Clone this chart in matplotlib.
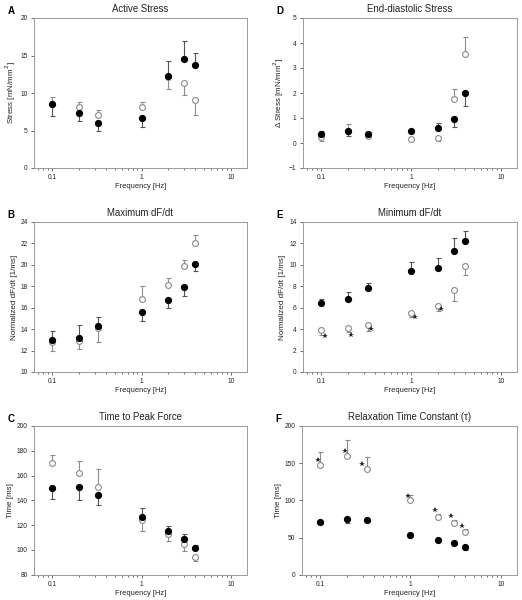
import matplotlib
matplotlib.use("Agg")
import matplotlib.pyplot as plt
from matplotlib.ticker import FuncFormatter, LogLocator, NullFormatter

plt.rcParams['font.family'] = ['Liberation Sans', 'DejaVu Sans']

freq = [0.1, 0.2, 0.33, 1, 2, 3, 4]

# A: Active Stress
a_filled = [8.6, 7.3, 6.0, 6.7, 12.3, 14.6, 13.8]
a_filled_up = [0, 0, 0, 0, 2.0, 2.4, 1.6]
a_filled_dn = [1.6, 1.0, 1.0, 1.2, 0, 0, 0]
a_open = [8.6, 8.2, 7.1, 8.2, 12.2, 11.4, 9.1]
a_open_up = [0.9, 0.6, 0.7, 0.6, 0, 0, 0]
a_open_dn = [0, 0, 0, 0, 1.6, 1.7, 2.0]

# D: End-diastolic Stress
d_filled = [0.38, 0.48, 0.37, 0.48, 0.62, 0.95, 2.02]
d_filled_up = [0.12, 0, 0.08, 0.07, 0.2, 0, 0]
d_filled_dn = [0, 0.21, 0, 0, 0, 0.3, 0.55]
d_open = [0.25, 0.5, 0.30, 0.17, 0.22, 1.75, 3.55]
d_open_up = [0, 0.25, 0, 0, 0, 0.4, 0.7]
d_open_dn = [0.15, 0, 0.05, 0, 0.12, 0, 0]

# B: Maximum dF/dt
b_filled = [13.0, 13.15, 14.25, 15.6, 16.7, 17.95, 20.05]
b_filled_up = [0.85, 1.2, 0.85, 0, 0, 0, 0]
b_filled_dn = [0, 0, 0, 0.8, 0.7, 0.9, 0.65]
b_open = [12.8, 12.9, 14.1, 16.85, 18.15, 19.9, 22.0]
b_open_up = [0, 0, 0, 1.2, 0.65, 0.6, 0.8]
b_open_dn = [0.8, 0.75, 1.3, 0, 0, 0, 0]

# E: Minimum dF/dt
e_filled = [6.45, 6.8, 7.8, 9.4, 9.75, 11.3, 12.2]
e_filled_up = [0.35, 0.65, 0.55, 0.9, 0.85, 1.2, 0.95]
e_filled_dn = [0, 0, 0, 0, 0, 0, 0]
e_open = [3.9, 4.15, 4.4, 5.55, 6.2, 7.7, 9.85]
e_open_up = [0, 0, 0, 0, 0, 0, 0]
e_open_dn = [0.4, 0.45, 0.55, 0.45, 0.5, 1.05, 0.75]
e_star_x = [0.11, 0.214, 0.36, 1.1, 2.15]
e_star_y = [3.33, 3.42, 4.05, 5.18, 5.9]

# C: Time to Peak Force
c_filled = [150, 150.5, 144.5, 126.5, 115, 108.5, 101.5]
c_filled_up = [0, 0, 0, 7, 4.5, 4.5, 2.5]
c_filled_dn = [9, 10.5, 8.5, 0, 0, 0, 0]
c_open = [170.5, 162, 151, 124, 113, 105, 94]
c_open_up = [6.5, 10, 14, 0, 0, 0, 0]
c_open_dn = [0, 0, 0, 8.5, 5.5, 6, 3]

# F: Relaxation Time Constant
f_filled = [70.5, 75, 74, 54, 47, 43, 37]
f_filled_up = [0, 0, 0, 0, 0, 0, 0]
f_filled_dn = [2, 5, 3, 2, 2, 2, 3]
f_open = [148, 160, 142, 100, 78, 70, 57]
f_open_up = [17, 21, 17, 7, 4, 4, 4]
f_open_dn = [0, 0, 0, 0, 0, 0, 0]
f_star_x = [0.096, 0.19, 0.29, 0.93, 1.88, 2.83, 3.7]
f_star_y = [154, 167, 149, 106, 86.5, 78.5, 66]

panels = [
    dict(letter='A', title='Active Stress', ylabel='Stress [mN/mm$^2$]',
         ylim=(0, 20), yticks=[0, 5, 10, 15, 20],
         f=(a_filled, a_filled_dn, a_filled_up), o=(a_open, a_open_dn, a_open_up),
         rect=[0.065, 0.72, 0.408, 0.25]),
    dict(letter='D', title='End-diastolic Stress', ylabel='Δ Stress [mN/mm$^2$]',
         ylim=(-1, 5), yticks=[-1, 0, 1, 2, 3, 4, 5],
         f=(d_filled, d_filled_dn, d_filled_up), o=(d_open, d_open_dn, d_open_up),
         rect=[0.580, 0.72, 0.410, 0.25]),
    dict(letter='B', title='Maximum dF/dt', ylabel='Normalized dF/dt [1/ms]',
         ylim=(10, 24), yticks=[10, 12, 14, 16, 18, 20, 22, 24],
         f=(b_filled, b_filled_dn, b_filled_up), o=(b_open, b_open_dn, b_open_up),
         rect=[0.065, 0.38, 0.408, 0.25]),
    dict(letter='E', title='Minimum dF/dt', ylabel='Normalized dF/dt [1/ms]',
         ylim=(0, 14), yticks=[0, 2, 4, 6, 8, 10, 12, 14],
         f=(e_filled, e_filled_dn, e_filled_up), o=(e_open, e_open_dn, e_open_up),
         stars=(e_star_x, e_star_y),
         rect=[0.580, 0.38, 0.410, 0.25]),
    dict(letter='C', title='Time to Peak Force', ylabel='Time [ms]',
         ylim=(80, 200), yticks=[80, 100, 120, 140, 160, 180, 200],
         f=(c_filled, c_filled_dn, c_filled_up), o=(c_open, c_open_dn, c_open_up),
         rect=[0.065, 0.042, 0.408, 0.248]),
    dict(letter='F', title='Relaxation Time Constant (τ)', ylabel='Time [ms]',
         ylim=(0, 200), yticks=[0, 50, 100, 150, 200],
         f=(f_filled, f_filled_dn, f_filled_up), o=(f_open, f_open_dn, f_open_up),
         stars=(f_star_x, f_star_y),
         rect=[0.578, 0.042, 0.412, 0.248]),
]

fig = plt.figure(figsize=(5.22, 6.0), dpi=100)
spine_c = '#9a9a9a'
for p in panels:
    ax = fig.add_axes(p['rect'])
    ax.set_xscale('log')
    ax.set_xlim(0.063, 15)
    ax.set_ylim(*p['ylim'])
    ax.set_yticks(p['yticks'])
    ax.xaxis.set_major_locator(LogLocator(base=10))
    ax.xaxis.set_minor_locator(LogLocator(base=10, subs=range(2, 10)))
    ax.xaxis.set_major_formatter(FuncFormatter(lambda v, pos: '%g' % v))
    ax.xaxis.set_minor_formatter(NullFormatter())
    yo, odn, oup = p['o']
    yf, fdn, fup = p['f']
    ax.errorbar(freq, yo, yerr=[odn, oup], fmt='none', ecolor='#8c8c8c',
                elinewidth=0.8, capsize=1.8, capthick=0.8, zorder=2)
    ax.errorbar(freq, yf, yerr=[fdn, fup], fmt='none', ecolor='#555555',
                elinewidth=0.8, capsize=1.8, capthick=0.8, zorder=2)
    ax.plot(freq, yo, 'o', ms=4.2, mfc='white', mec='#8a8a8a', mew=0.8, zorder=3)
    ax.plot(freq, yf, 'o', ms=4.2, mfc='black', mec='black', zorder=4)
    if 'stars' in p:
        sx, sy = p['stars']
        ax.plot(sx, sy, '*', ms=4.2, color='#222222', mew=0, zorder=5)
    for s in ax.spines.values():
        s.set_color(spine_c)
        s.set_linewidth(0.7)
    ax.tick_params(which='both', direction='out', colors='#555555', labelsize=4.8,
                   labelcolor='#222222', width=0.6, top=False, right=False)
    ax.tick_params(which='major', length=2.5, pad=2)
    ax.tick_params(which='minor', length=1.5)
    ax.set_xlabel('Frequency [Hz]', fontsize=5.4, labelpad=1.5, color='#222222')
    ax.set_ylabel(p['ylabel'], fontsize=5.8, labelpad=2, color='#222222')
    ax.set_title(p['title'], fontsize=6.9, pad=4, color='#222222')
    bb = p['rect']
    fig.text(bb[0] - 0.05, bb[1] + bb[3] + 0.012, p['letter'], fontsize=7,
             fontweight='bold', ha='left', va='center')

fig.savefig('out.png', dpi=100)
